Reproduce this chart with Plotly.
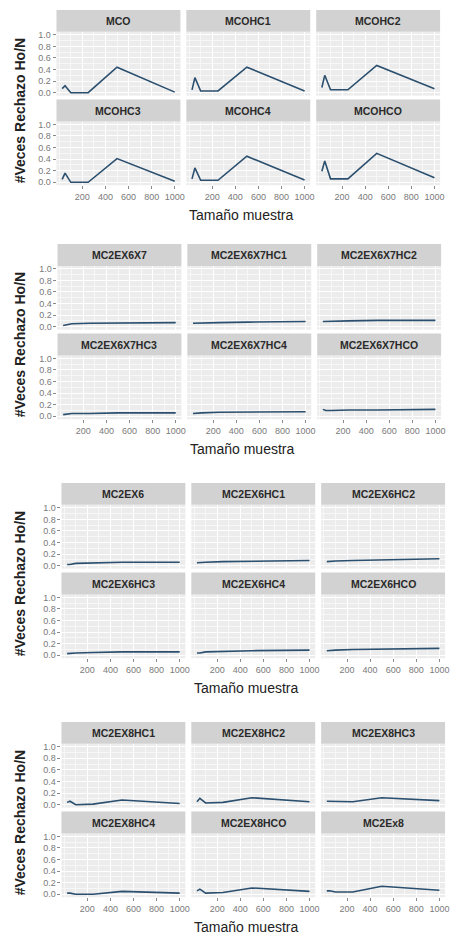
import plotly.graph_objects as go

W, H = 456, 948

# ---------------- data ----------------
sample_size = [25, 50, 100, 250, 500, 1000]

g1_names = ["MCO", "MCOHC1", "MCOHC2", "MCOHC3", "MCOHC4", "MCOHCO"]
g1_values = [
    [0.07, 0.12, 0.00, 0.00, 0.44, 0.01],
    [0.05, 0.26, 0.03, 0.03, 0.44, 0.03],
    [0.09, 0.30, 0.05, 0.05, 0.47, 0.07],
    [0.05, 0.16, 0.00, 0.00, 0.41, 0.02],
    [0.06, 0.25, 0.035, 0.035, 0.45, 0.04],
    [0.19, 0.37, 0.06, 0.06, 0.50, 0.08],
]

g2_names = ["MC2EX6X7", "MC2EX6X7HC1", "MC2EX6X7HC2",
            "MC2EX6X7HC3", "MC2EX6X7HC4", "MC2EX6X7HCO"]
g2_values = [
    [0.02, 0.03, 0.05, 0.06, 0.06, 0.07],
    [0.06, 0.06, 0.07, 0.07, 0.08, 0.09],
    [0.09, 0.09, 0.10, 0.10, 0.11, 0.11],
    [0.03, 0.04, 0.05, 0.05, 0.06, 0.06],
    [0.05, 0.05, 0.06, 0.07, 0.07, 0.08],
    [0.12, 0.10, 0.10, 0.11, 0.11, 0.12],
]

g3_names = ["MC2EX6", "MC2EX6HC1", "MC2EX6HC2",
            "MC2EX6HC3", "MC2EX6HC4", "MC2EX6HCO"]
g3_values = [
    [0.02, 0.02, 0.04, 0.05, 0.06, 0.06],
    [0.05, 0.05, 0.06, 0.07, 0.08, 0.09],
    [0.07, 0.07, 0.08, 0.09, 0.10, 0.12],
    [0.03, 0.03, 0.04, 0.05, 0.06, 0.06],
    [0.04, 0.04, 0.06, 0.07, 0.08, 0.09],
    [0.08, 0.08, 0.09, 0.10, 0.11, 0.12],
]

g4_names = ["MC2EX8HC1", "MC2EX8HC2", "MC2EX8HC3",
            "MC2EX8HC4", "MC2EX8HCO", "MC2Ex8"]
g4_values = [
    [0.04, 0.06, 0.00, 0.01, 0.08, 0.02],
    [0.05, 0.11, 0.03, 0.04, 0.12, 0.05],
    [0.06, 0.06, 0.05, 0.05, 0.12, 0.07],
    [0.02, 0.02, 0.00, 0.00, 0.05, 0.02],
    [0.06, 0.09, 0.02, 0.03, 0.11, 0.05],
    [0.06, 0.06, 0.04, 0.04, 0.14, 0.07],
]

x_ticks = [200, 400, 600, 800, 1000]
x_minor = [0, 100, 300, 500, 700, 900]
y_ticks = [0.0, 0.2, 0.4, 0.6, 0.8, 1.0]
y_minor = [0.1, 0.3, 0.5, 0.7, 0.9]
y_title = "#Veces Rechazo Ho/N"
x_title = "Tamaño muestra"

groups = [(g1_names, g1_values), (g2_names, g2_values),
          (g3_names, g3_values), (g4_names, g4_values)]

# ---------------- layout geometry (pixels) ----------------
group_tops = [8, 243, 483, 723]
group_lefts = [57, 58, 62, 62]
COL_STEP, COL_W = 131, 125
STRIP_H, PANEL_H, ROW_GAP = 22, 64, 4

LINE_COLOR = "#2b4f6e"
FONT = "Liberation Sans, Arial, sans-serif"

fig = go.Figure()
layout = dict(
    width=W, height=H,
    margin=dict(l=0, r=0, t=0, b=0),
    paper_bgcolor="white",
    plot_bgcolor="#ececec",
    showlegend=False,
    font=dict(family=FONT),
)
shapes, annotations = [], []

def px_x(p):
    return p / W

def px_y(p):
    return 1 - p / H

idx = 0
for gi, (names, values) in enumerate(groups):
    T = group_tops[gi]
    L = group_lefts[gi]
    for k in range(6):
        r, c = divmod(k, 3)
        idx += 1
        x0 = L + c * COL_STEP
        x1 = x0 + COL_W
        s_top = T + r * (STRIP_H + PANEL_H + ROW_GAP)
        p_top = s_top + STRIP_H
        p_bot = p_top + PANEL_H
        xa = "xaxis" if idx == 1 else f"xaxis{idx}"
        ya = "yaxis" if idx == 1 else f"yaxis{idx}"
        xr = "x" if idx == 1 else f"x{idx}"
        yr = "y" if idx == 1 else f"y{idx}"
        fig.add_trace(go.Scatter(
            x=sample_size, y=values[k], mode="lines",
            line=dict(color=LINE_COLOR, width=1.6),
            xaxis=xr, yaxis=yr, hoverinfo="skip"))
        layout[xa] = dict(
            domain=[px_x(x0), px_x(x1)], anchor=yr,
            range=[-24, 1049], tickvals=x_ticks,
            ticktext=[str(v) for v in x_ticks],
            showticklabels=(r == 1),
            ticks="outside" if r == 1 else "", ticklen=3, tickwidth=1,
            tickcolor="#8a8a8a",
            tickfont=dict(size=9, color="#7a7a7a", family=FONT),
            showgrid=True, gridcolor="white", gridwidth=1,
            minor=dict(tickvals=x_minor, showgrid=True,
                       gridcolor="#f7f7f7", gridwidth=0.5),
            zeroline=False, showline=False, fixedrange=True,
        )
        layout[ya] = dict(
            domain=[px_y(p_bot), px_y(p_top)], anchor=xr,
            range=[-0.05, 1.05], tickvals=y_ticks,
            ticktext=[f"{v:.1f}" for v in y_ticks],
            showticklabels=(c == 0),
            ticks="outside" if c == 0 else "", ticklen=3, tickwidth=1,
            tickcolor="#8a8a8a",
            tickfont=dict(size=9, color="#7a7a7a", family=FONT),
            showgrid=True, gridcolor="white", gridwidth=1,
            minor=dict(tickvals=y_minor, showgrid=True,
                       gridcolor="#f7f7f7", gridwidth=0.5),
            zeroline=False, showline=False, fixedrange=True,
        )
        shapes.append(dict(
            type="rect", xref="paper", yref="paper",
            x0=px_x(x0), x1=px_x(x1), y0=px_y(p_top), y1=px_y(s_top),
            fillcolor="#d2d2d2", line=dict(width=0)))
        annotations.append(dict(
            text="<b>" + names[k] + "</b>", xref="paper", yref="paper",
            x=px_x((x0 + x1) / 2), y=px_y((s_top + p_top) / 2),
            xanchor="center", yanchor="middle", showarrow=False,
            font=dict(size=10.5, color="#2a2a2a", family=FONT)))
    # group axis titles
    panels_mid = T + (2 * (STRIP_H + PANEL_H) + ROW_GAP + STRIP_H) / 2 + 2
    annotations.append(dict(
        text="<b>" + y_title + "</b>", xref="paper", yref="paper",
        x=px_x(20), y=px_y(panels_mid), textangle=-90,
        xanchor="center", yanchor="middle", showarrow=False,
        font=dict(size=14, color="#222222", family=FONT)))
    annotations.append(dict(
        text=x_title, xref="paper", yref="paper",
        x=px_x(L + 186), y=px_y(T + 206),
        xanchor="center", yanchor="middle", showarrow=False,
        font=dict(size=14, color="#222222", family=FONT)))

layout["shapes"] = shapes
layout["annotations"] = annotations
fig.update_layout(**layout)
fig.write_html("out.html")
